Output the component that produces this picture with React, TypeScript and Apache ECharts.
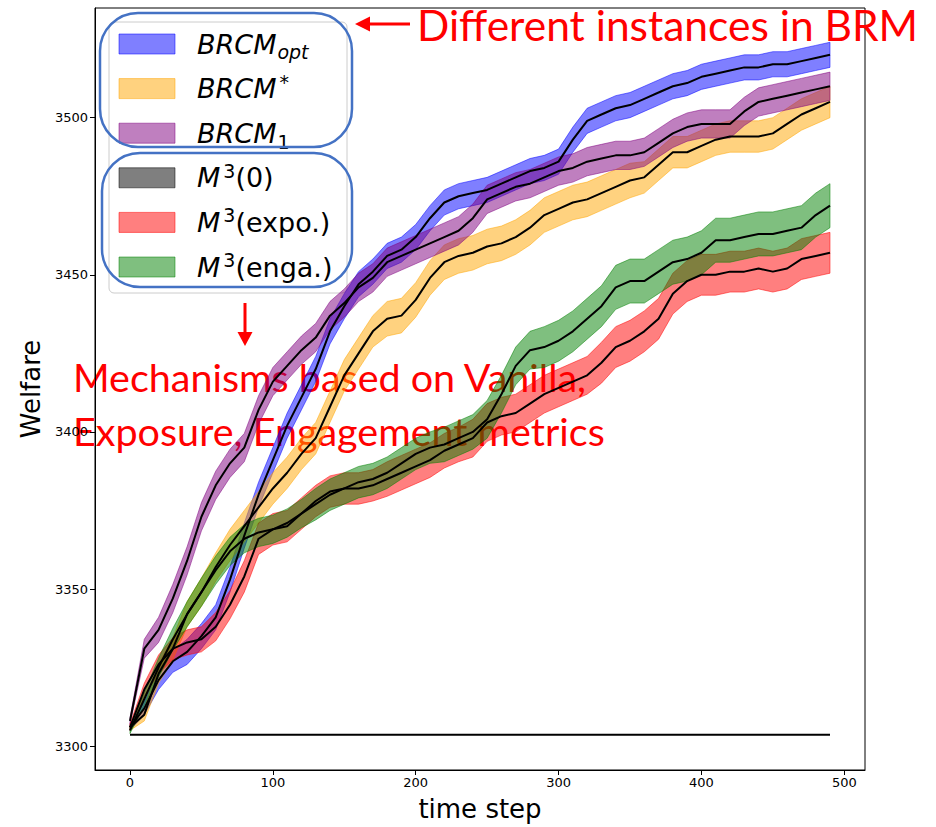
import React, { useEffect, useRef } from "react";
import * as echarts from "echarts";

// time axis (every 10 steps)
const timeSteps = [
  0, 10, 20, 30, 40, 50, 60, 70, 80, 90,
  100, 110, 120, 130, 140, 150, 160, 170, 180, 190,
  200, 210, 220, 230, 240, 250, 260, 270, 280, 290,
  300, 310, 320, 330, 340, 350, 360, 370, 380, 390,
  400, 410, 420, 430, 440, 450, 460, 470, 480, 490,
];

// mean welfare per mechanism
const brcmOpt = [
  3306, 3312, 3321, 3327, 3330, 3335, 3341, 3353, 3367, 3380,
  3391, 3402, 3411, 3420, 3432, 3440, 3447, 3451, 3456, 3458,
  3462, 3468, 3473, 3475, 3476, 3477, 3479, 3481, 3483, 3484,
  3486, 3493, 3499, 3501, 3503, 3504, 3506, 3508, 3510, 3511,
  3513, 3514, 3515, 3516, 3516, 3517, 3517, 3518, 3519, 3520,
];
const brcmStar = [
  3306, 3310, 3323, 3331, 3342, 3349, 3357, 3364, 3370, 3376,
  3382, 3387, 3393, 3398, 3408, 3418, 3425, 3432, 3436, 3437,
  3442, 3449, 3454, 3456, 3457, 3459, 3460, 3462, 3465, 3469,
  3471, 3473, 3474, 3476, 3478, 3480, 3481, 3485, 3489, 3489,
  3491, 3493, 3494, 3494, 3494, 3495, 3498, 3501, 3503, 3505,
];
const brcm1 = [
  3308, 3331, 3337, 3347, 3359, 3373, 3383, 3390, 3395, 3407,
  3416, 3421, 3426, 3430, 3437, 3441, 3446, 3449, 3454, 3456,
  3458, 3460, 3462, 3464, 3468, 3474, 3476, 3478, 3479, 3481,
  3483, 3484, 3486, 3487, 3488, 3488, 3489, 3492, 3495, 3497,
  3498, 3498, 3498, 3502, 3505, 3506, 3507, 3508, 3509, 3510,
];
const m3Zero = [
  3303.6, 3303.6, 3303.6, 3303.6, 3303.6, 3303.6, 3303.6, 3303.6, 3303.6, 3303.6,
  3303.6, 3303.6, 3303.6, 3303.6, 3303.6, 3303.6, 3303.6, 3303.6, 3303.6, 3303.6,
  3303.6, 3303.6, 3303.6, 3303.6, 3303.6, 3303.6, 3303.6, 3303.6, 3303.6, 3303.6,
  3303.6, 3303.6, 3303.6, 3303.6, 3303.6, 3303.6, 3303.6, 3303.6, 3303.6, 3303.6,
  3303.6, 3303.6, 3303.6, 3303.6, 3303.6, 3303.6, 3303.6, 3303.6, 3303.6, 3303.6,
];
const m3Expo = [
  3306, 3318, 3326, 3331, 3333, 3334, 3338, 3345, 3354, 3366,
  3369, 3370, 3374, 3378, 3381, 3382, 3382, 3383, 3385, 3387,
  3389, 3391, 3394, 3396, 3398, 3403, 3405, 3406, 3409, 3412,
  3414, 3416, 3418, 3422, 3427, 3429, 3432, 3436, 3444, 3448,
  3450, 3450, 3451, 3451, 3452, 3451, 3452, 3455, 3456, 3457,
];
const m3Enga = [
  3305, 3315, 3325, 3334, 3342, 3349, 3356, 3362, 3366, 3368,
  3369, 3371, 3374, 3377, 3380, 3382, 3384, 3385, 3387, 3390,
  3393, 3395, 3396, 3398, 3400, 3404, 3412, 3421, 3426, 3427,
  3429, 3432, 3436, 3440, 3446, 3448, 3448, 3451, 3454, 3455,
  3457, 3461, 3461, 3462, 3463, 3463, 3464, 3465, 3469, 3472,
];

// half-width of the shaded band around each mean
const brcmOptSpread = [
  1, 2, 3, 3.5, 4, 4, 4, 4, 4, 4,
  4, 4, 4, 4, 4, 4, 4, 4, 4, 4,
  4, 4, 4, 4, 4, 4, 4, 4, 4, 4,
  4, 4, 4, 4, 4, 4, 4, 4, 4, 4,
  4, 4, 4, 4, 4, 4, 4, 4, 4, 4,
];
const brcmStarSpread = [
  1, 2, 3, 3.5, 4, 4.5, 4.5, 5, 5, 5,
  5, 5, 5, 5, 5, 5, 5, 5, 5.5, 5.5,
  5.5, 5.5, 5.5, 5.5, 5.5, 5.5, 5.5, 5.5, 5.5, 5.5,
  5.5, 5.5, 5.5, 5.5, 5.5, 5.5, 5, 5, 5, 5,
  5, 5, 5, 5, 5, 5, 5, 5, 5, 5,
];
const brcm1Spread = [
  1, 3, 4, 4.5, 4.5, 4.5, 4.5, 4.5, 4.5, 4.5,
  4.5, 4.5, 4.5, 4.5, 4.5, 4.5, 4.5, 4.5, 4.5, 4.5,
  4.5, 4.5, 4.5, 4.5, 4.5, 4.5, 4.5, 4.5, 4.5, 4.5,
  4.5, 4.5, 4.5, 4.5, 4.5, 4.5, 4.5, 4.5, 4.5, 4.5,
  4.5, 4.5, 4.5, 4.5, 4.5, 4.5, 4.5, 4.5, 4.5, 4.5,
];
const m3ZeroSpread = [
  0, 0, 0, 0, 0, 0, 0, 0, 0, 0,
  0, 0, 0, 0, 0, 0, 0, 0, 0, 0,
  0, 0, 0, 0, 0, 0, 0, 0, 0, 0,
  0, 0, 0, 0, 0, 0, 0, 0, 0, 0,
  0, 0, 0, 0, 0, 0, 0, 0, 0, 0,
];
const m3ExpoSpread = [
  1, 2, 3, 3.5, 4, 4, 4.5, 4.5, 5, 5,
  5, 5, 5, 5, 5, 5, 5, 5, 5.5, 5.5,
  5.5, 5.5, 5.5, 5.5, 6, 6, 6, 6, 6, 6,
  6, 6, 6, 6.5, 6.5, 6.5, 6.5, 6.5, 6.5, 6.5,
  6.5, 6.5, 6.5, 6.5, 6.5, 6.5, 6.5, 6.5, 6.5, 6.5,
];
const m3EngaSpread = [
  1, 2, 3, 3.5, 4, 4.5, 4.5, 4.5, 4.5, 4.5,
  4.5, 4.5, 4.5, 5, 5, 5, 5, 5, 5, 5,
  5, 5, 5.5, 5.5, 5.5, 6, 6, 6, 6, 6.5,
  6.5, 6.5, 6.5, 6.5, 7, 7, 7, 7, 7, 7,
  7, 7, 7, 7, 7, 7, 7, 7, 7, 7,
];

const xTicks = [0, 100, 200, 300, 400, 500];
const yTicks = [3300, 3350, 3400, 3450, 3500];

type Mechanism = {
  key: string;
  label: string;
  fill: string;
  mean: number[];
  spread: number[];
};

const mechanisms: Mechanism[] = [
  { key: "opt", label: "{i|BRCM}{isub|opt}", fill: "rgba(0,0,255,0.5)", mean: brcmOpt, spread: brcmOptSpread },
  { key: "star", label: "{i|BRCM}{sup|*}", fill: "rgba(255,165,0,0.5)", mean: brcmStar, spread: brcmStarSpread },
  { key: "one", label: "{i|BRCM}{sub|1}", fill: "rgba(128,0,128,0.5)", mean: brcm1, spread: brcm1Spread },
  { key: "zero", label: "{i|M}{sup|3}{r|(0)}", fill: "rgba(0,0,0,0.5)", mean: m3Zero, spread: m3ZeroSpread },
  { key: "expo", label: "{i|M}{sup|3}{r|(expo.)}", fill: "rgba(255,0,0,0.5)", mean: m3Expo, spread: m3ExpoSpread },
  { key: "enga", label: "{i|M}{sup|3}{r|(enga.)}", fill: "rgba(0,128,0,0.5)", mean: m3Enga, spread: m3EngaSpread },
];

const FONT = "DejaVu Sans";
const NOTE_FONT = "Lato";
const NOTE_RED = "#ff0000";
const BOX_BLUE = "#4472c4";

const legendRich = {
  i: { fontFamily: FONT, fontSize: 27, fontStyle: "italic", color: "#000" },
  r: { fontFamily: FONT, fontSize: 27, color: "#000" },
  isub: { fontFamily: FONT, fontSize: 19, fontStyle: "italic", color: "#000", padding: [16, 0, 0, 1] },
  sub: { fontFamily: FONT, fontSize: 19, color: "#000", padding: [18, 0, 0, 1] },
  sup: { fontFamily: FONT, fontSize: 19, color: "#000", padding: [0, 0, 14, 3] },
};

function buildOption() {
  const bandSeries = mechanisms
    .filter((m) => m.spread.some((s) => s > 0))
    .map((m) => ({
      type: "custom",
      name: m.key,
      silent: true,
      z: 2,
      data: [[timeSteps[0], m.mean[0]]],
      encode: { x: 0, y: 1 },
      renderItem: (params: any, api: any) => {
        const pts: number[][] = [];
        for (let i = 0; i < timeSteps.length; i++) {
          pts.push(api.coord([timeSteps[i], m.mean[i] + m.spread[i]]));
        }
        for (let i = timeSteps.length - 1; i >= 0; i--) {
          pts.push(api.coord([timeSteps[i], m.mean[i] - m.spread[i]]));
        }
        return {
          type: "polygon",
          shape: { points: pts },
          style: { fill: m.fill, stroke: m.fill, lineWidth: 1 },
        };
      },
    }));

  const lineSeries = mechanisms.map((m) => ({
    type: "line",
    name: m.key + "-mean",
    silent: true,
    z: 3,
    showSymbol: false,
    data: timeSteps.map((t, i) => [t, m.mean[i]]),
    lineStyle: { color: "#000", width: 2 },
  }));

  const legendRowY = (i: number) => 44 + i * 44.6;

  const legendChildren: any[] = [
    {
      type: "rect",
      shape: { x: 109, y: 22, width: 238, height: 271, r: 5 },
      style: { fill: "rgba(255,255,255,0.8)", stroke: "#cccccc", lineWidth: 1 },
    },
  ];
  mechanisms.forEach((m, i) => {
    const cy = legendRowY(i);
    legendChildren.push({
      type: "rect",
      shape: { x: 119, y: cy - 10, width: 56, height: 20 },
      style: { fill: m.fill, stroke: m.fill, lineWidth: 1 },
    });
    legendChildren.push({
      type: "text",
      x: 197,
      y: cy,
      style: {
        text: m.label,
        rich: legendRich,
        fontFamily: FONT,
        fontSize: 27,
        fill: "#000",
        verticalAlign: "middle",
        align: "left",
      },
    });
  });

  const notes: any[] = [
    // rounded frames around the two groups of legend entries
    {
      type: "rect",
      shape: { x: 100, y: 13, width: 252, height: 134, r: 38 },
      style: { fill: "none", stroke: BOX_BLUE, lineWidth: 2.5 },
    },
    {
      type: "rect",
      shape: { x: 102, y: 153, width: 250, height: 134, r: 38 },
      style: { fill: "none", stroke: BOX_BLUE, lineWidth: 2.5 },
    },
    // arrow pointing left at the first frame
    {
      type: "line",
      shape: { x1: 368, y1: 24, x2: 410, y2: 24 },
      style: { stroke: NOTE_RED, lineWidth: 3 },
    },
    {
      type: "polygon",
      shape: { points: [[355, 24], [370, 16.5], [370, 31.5]] },
      style: { fill: NOTE_RED },
    },
    {
      type: "text",
      x: 417,
      y: 24,
      style: {
        text: "Different instances in BRM",
        fontFamily: NOTE_FONT,
        fontSize: 42.5,
        fill: NOTE_RED,
        verticalAlign: "middle",
        align: "left",
      },
    },
    // arrow pointing down from the second frame
    {
      type: "line",
      shape: { x1: 245, y1: 303, x2: 245, y2: 334 },
      style: { stroke: NOTE_RED, lineWidth: 3 },
    },
    {
      type: "polygon",
      shape: { points: [[245, 346], [237.5, 332], [252.5, 332]] },
      style: { fill: NOTE_RED },
    },
    {
      type: "text",
      x: 73,
      y: 376,
      style: {
        text: "Mechanisms based on Vanilla,",
        fontFamily: NOTE_FONT,
        fontSize: 39.5,
        fill: NOTE_RED,
        verticalAlign: "middle",
        align: "left",
      },
    },
    {
      type: "text",
      x: 73,
      y: 430,
      style: {
        text: "Exposure, Engagement metrics",
        fontFamily: NOTE_FONT,
        fontSize: 39.5,
        fill: NOTE_RED,
        verticalAlign: "middle",
        align: "left",
      },
    },
  ];

  return {
    animation: false,
    backgroundColor: "#fff",
    grid: {
      left: 95,
      top: 8,
      width: 770,
      height: 765,
      show: true,
      borderColor: "#000",
      borderWidth: 1,
      backgroundColor: "transparent",
    },
    xAxis: {
      type: "value",
      min: -24.5,
      max: 514.5,
      splitLine: { show: false },
      axisLine: { show: true, onZero: false, lineStyle: { color: "#000", width: 1 } },
      axisTick: { show: true, length: 5, customValues: xTicks, lineStyle: { color: "#000" } },
      axisLabel: {
        customValues: xTicks,
        formatter: (v: number) => String(v),
        fontFamily: FONT,
        fontSize: 13,
        color: "#000",
        margin: 6,
      },
      name: "time step",
      nameLocation: "middle",
      nameGap: 26,
      nameTextStyle: { fontFamily: FONT, fontSize: 26, color: "#000", verticalAlign: "top" },
    },
    yAxis: {
      type: "value",
      min: 3292.4,
      max: 3534.9,
      splitLine: { show: false },
      axisLine: { show: true, onZero: false, lineStyle: { color: "#000", width: 1 } },
      axisTick: { show: true, length: 5, customValues: yTicks, lineStyle: { color: "#000" } },
      axisLabel: {
        customValues: yTicks,
        formatter: (v: number) => String(v),
        fontFamily: FONT,
        fontSize: 13,
        color: "#000",
        margin: 7,
      },
      name: "Welfare",
      nameLocation: "middle",
      nameGap: 43,
      nameRotate: 90,
      nameTextStyle: { fontFamily: FONT, fontSize: 26, color: "#000" },
    },
    series: [...bandSeries, ...lineSeries],
    graphic: [
      { type: "group", z: 100, children: legendChildren },
      { type: "group", z: 110, children: notes },
    ],
  };
}

export default function App() {
  const ref = useRef<HTMLDivElement>(null);
  useEffect(() => {
    if (!ref.current) return;
    const chart = echarts.init(ref.current, undefined, { renderer: "svg" });
    chart.setOption(buildOption() as any);
    return () => chart.dispose();
  }, []);
  return (
    <div
      ref={ref}
      style={{ position: "fixed", left: 0, top: 0, width: 936, height: 827, background: "#fff" }}
    />
  );
}
